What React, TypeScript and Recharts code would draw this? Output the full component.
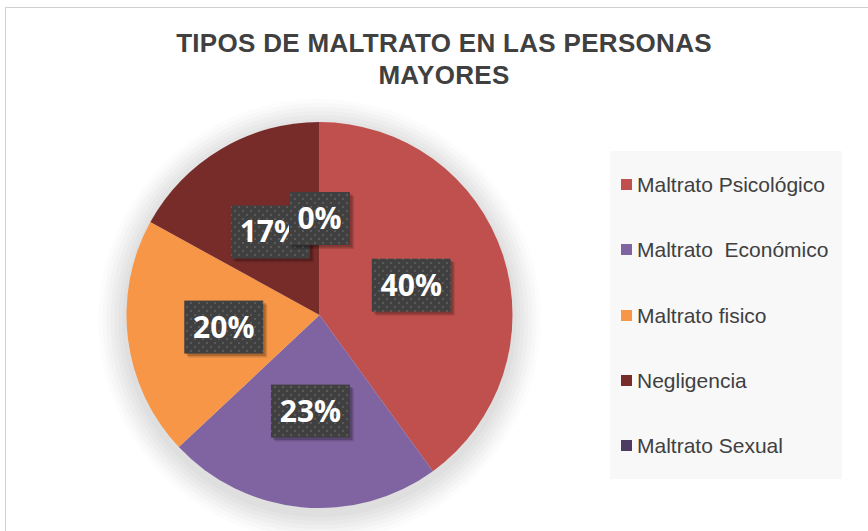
import { Cell, Legend, Pie, PieChart } from "recharts";

const CATEGORIES = [
  "Maltrato Psicológico",
  "Maltrato  Económico",
  "Maltrato fisico",
  "Negligencia",
  "Maltrato Sexual",
];
const VALUES = [40, 23, 20, 17, 0];
const COLORS = ["#C0504D", "#8064A2", "#F79646", "#772C2A", "#4D3B62"];

const data = CATEGORIES.map((name, i) => ({ name, value: VALUES[i] }));

const PIE_CX = 319.5;
const PIE_CY = 315;
const PIE_R = 193;

// halo rings for the soft shadow (extra radius, grey)
const HALO = [
  [28, "#FCFCFC"],
  [24, "#F8F8F8"],
  [20, "#F3F3F3"],
  [16, "#EEEEEE"],
  [12, "#E9E9E9"],
  [8, "#E4E4E4"],
  [4, "#DFDFDF"],
] as const;

const RAD = Math.PI / 180;
const TEXT = "#404040";

// dark dotted boxes, like the Excel data-label style
function renderLabel(props: any) {
  const { cx, cy, midAngle, outerRadius, value, index } = props;
  const r = outerRadius * 0.5;
  const x = cx + r * Math.cos(-midAngle * RAD);
  const y = cy + r * Math.sin(-midAngle * RAD);
  const text = `${value}%`;
  const w = 18 * text.length + 25;
  const h = 53;
  const bx = x - w / 2;
  const by = y - h / 2;
  return (
    <g key={`lbl-${index}`}>
      <rect x={bx + 4} y={by + 4} width={w} height={h} fill="#000000" fillOpacity={0.12} />
      <rect x={bx + 2.5} y={by + 2.5} width={w} height={h} fill="#000000" fillOpacity={0.2} />
      <rect x={bx} y={by} width={w} height={h} fill="url(#lblDots)" />
      <text
        x={x}
        y={y + 10.5}
        textAnchor="middle"
        fill="#ffffff"
        fontFamily="'Open Sans', sans-serif"
        fontWeight={700}
        fontSize={30}
      >
        {text}
      </text>
    </g>
  );
}

// legend kept in the data order (Recharts would sort it by name)
function LegendBox() {
  return (
    <div
      style={{
        background: "#F8F8F8",
        width: 232,
        height: 328,
        boxSizing: "border-box",
        paddingTop: 23,
      }}
    >
      {CATEGORIES.map((label, i) => (
        <div
          key={label}
          style={{
            display: "flex",
            alignItems: "center",
            height: 21,
            marginBottom: 44.3,
            paddingLeft: 11,
          }}
        >
          <span
            style={{
              display: "inline-block",
              width: 11,
              height: 11,
              background: COLORS[i],
              marginRight: 5,
              flexShrink: 0,
            }}
          />
          <span
            style={{
              fontFamily: "'Liberation Sans', Arial, sans-serif",
              fontSize: 21,
              color: TEXT,
              whiteSpace: "pre",
              lineHeight: "21px",
            }}
          >
            {label}
          </span>
        </div>
      ))}
    </div>
  );
}

export default function App() {
  return (
    <div
      style={{
        position: "absolute",
        left: 0,
        top: 0,
        width: 868,
        height: 531,
        overflow: "hidden",
        backgroundColor: "#ffffff",
      }}
    >
      <div
        style={{
          position: "absolute",
          left: 5,
          top: 7,
          width: 1000,
          height: 1000,
          border: "1px solid #D0D0D0",
        }}
      />
      {/* soft shadow round the pie, plus the label pattern */}
      <svg width={868} height={531} style={{ position: "absolute", left: 0, top: 0 }}>
        <defs>
          <pattern id="lblDots" width="8" height="8" patternUnits="userSpaceOnUse">
            <rect width="8" height="8" fill="#404040" />
            <rect x="2" y="2" width="2" height="2" fill="#595959" />
            <rect x="6" y="6" width="2" height="2" fill="#595959" />
          </pattern>
        </defs>
        {HALO.map(([extra, color]) => (
          <circle key={extra} cx={PIE_CX} cy={PIE_CY + 5} r={PIE_R + extra} fill={color} />
        ))}
      </svg>
      <div
        style={{
          position: "absolute",
          left: 144,
          top: 27,
          width: 600,
          textAlign: "center",
          fontFamily: "'Liberation Sans', Arial, sans-serif",
          fontWeight: 700,
          fontSize: 26,
          letterSpacing: 0.3,
          lineHeight: "32px",
          color: TEXT,
        }}
      >
        TIPOS DE MALTRATO EN LAS PERSONAS
        <br />
        MAYORES
      </div>
      <div style={{ position: "absolute", left: 0, top: 0 }}>
        <PieChart width={868} height={531} margin={{ top: 0, right: 0, bottom: 0, left: 0 }}>
          <Pie
            data={data}
            dataKey="value"
            nameKey="name"
            cx={PIE_CX}
            cy={PIE_CY}
            outerRadius={PIE_R}
            startAngle={90}
            endAngle={-270}
            stroke="none"
            label={renderLabel}
            labelLine={false}
            isAnimationActive={false}
          >
            {data.map((d, i) => (
              <Cell key={d.name} fill={COLORS[i]} />
            ))}
          </Pie>
          <Legend
            content={<LegendBox />}
            wrapperStyle={{ position: "absolute", left: 610, top: 151, width: 232, height: 328 }}
          />
        </PieChart>
      </div>
    </div>
  );
}
